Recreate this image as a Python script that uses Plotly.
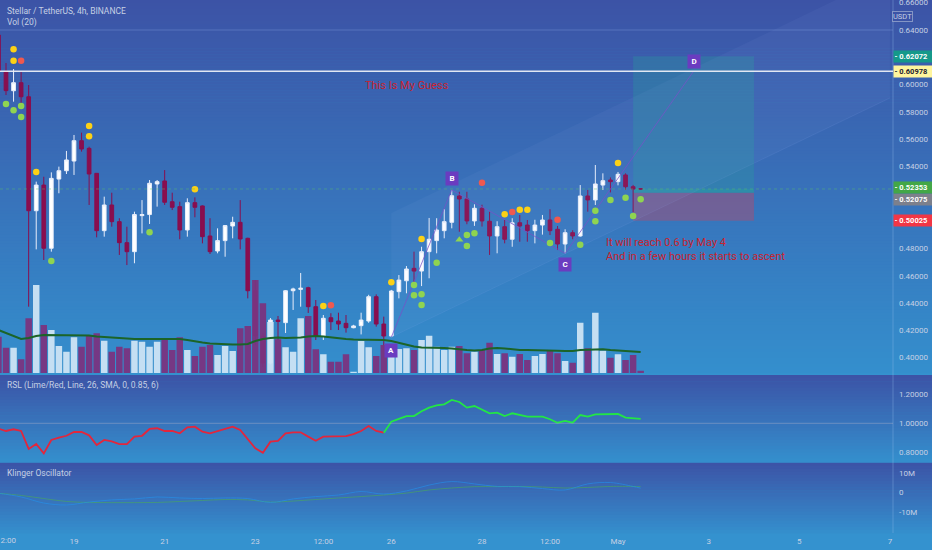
import plotly.graph_objects as go
from datetime import datetime, timedelta

# ------------------------------------------------------------------ data
bar_start = datetime(2021, 4, 17, 8, 0)   # first visible 4h candle
bar_hours = 4

opens = [0.6363, 0.6095, 0.5955, 0.6014, 0.5911, 0.5076, 0.5264, 0.4801, 0.5308, 0.5369,
         0.5440, 0.5589, 0.5533, 0.5350, 0.4930, 0.5118, 0.4996, 0.4842, 0.4776, 0.5040,
         0.5048, 0.5272, 0.5294, 0.5142, 0.5106, 0.4935, 0.5135, 0.5111, 0.4891, 0.4781,
         0.4857, 0.4964, 0.4991, 0.4874, 0.4490, 0.4158, 0.3960, 0.4275, 0.4256, 0.4490,
         0.4500, 0.4512, 0.4373, 0.4158, 0.4292, 0.4268, 0.4251, 0.4219, 0.4234, 0.4268,
         0.4446, 0.4246, 0.4158, 0.4483, 0.4563, 0.4654, 0.4634, 0.4776, 0.4857, 0.4930,
         0.4991, 0.5184, 0.5162, 0.5001, 0.5094, 0.4999, 0.4891, 0.4959, 0.4867, 0.4988,
         0.4971, 0.4930, 0.4971, 0.5008, 0.4940, 0.4832, 0.4915, 0.4891, 0.5184, 0.5155,
         0.5264, 0.5301, 0.5289, 0.5338, 0.5252, 0.5237]
highs = [0.6370, 0.6158, 0.6114, 0.6095, 0.5997, 0.5289, 0.5325, 0.5357, 0.5399, 0.5514,
         0.5631, 0.5648, 0.5545, 0.5352, 0.5179, 0.5208, 0.5021, 0.4959, 0.5069, 0.5154,
         0.5301, 0.5301, 0.5374, 0.5208, 0.5142, 0.5167, 0.5174, 0.5115, 0.5021, 0.4947,
         0.4971, 0.5032, 0.5154, 0.4878, 0.4568, 0.4180, 0.4290, 0.4305, 0.4495, 0.4512,
         0.4620, 0.4519, 0.4422, 0.4312, 0.4325, 0.4329, 0.4312, 0.4240, 0.4329, 0.4460,
         0.4463, 0.4300, 0.4496, 0.4605, 0.4671, 0.4776, 0.4812, 0.5023, 0.5021, 0.5087,
         0.5228, 0.5215, 0.5215, 0.5123, 0.5120, 0.5069, 0.4999, 0.5008, 0.5021, 0.5045,
         0.5008, 0.5010, 0.5045, 0.5087, 0.4964, 0.4940, 0.4933, 0.5264, 0.5228, 0.5411,
         0.5350, 0.5320, 0.5360, 0.5350, 0.5265, 0.5240]
lows = [0.6090, 0.5924, 0.5875, 0.5838, 0.4373, 0.4793, 0.4715, 0.4776, 0.5204, 0.5345,
        0.5338, 0.5509, 0.5118, 0.4881, 0.4886, 0.4959, 0.4752, 0.4678, 0.4691, 0.4910,
        0.4979, 0.5106, 0.5118, 0.5081, 0.4867, 0.4886, 0.5028, 0.4837, 0.4759, 0.4764,
        0.4739, 0.4874, 0.4793, 0.4434, 0.4090, 0.3930, 0.3950, 0.4129, 0.4180, 0.4349,
        0.4373, 0.4327, 0.4129, 0.4129, 0.4202, 0.4202, 0.4183, 0.4215, 0.4170, 0.4255,
        0.4227, 0.4056, 0.4150, 0.4434, 0.4471, 0.4532, 0.4524, 0.4581, 0.4764, 0.4874,
        0.4947, 0.4922, 0.4977, 0.4965, 0.4960, 0.4752, 0.4764, 0.4837, 0.4812, 0.4849,
        0.4849, 0.4837, 0.4901, 0.4898, 0.4788, 0.4764, 0.4867, 0.4886, 0.5069, 0.5118,
        0.5228, 0.5210, 0.5262, 0.5230, 0.5065, 0.5230]
closes = [0.6100, 0.5956, 0.6014, 0.5911, 0.5076, 0.5264, 0.4801, 0.5313, 0.5369, 0.5448,
          0.5589, 0.5528, 0.5345, 0.4930, 0.5118, 0.4996, 0.4842, 0.4776, 0.5048, 0.5048,
          0.5277, 0.5289, 0.5138, 0.5101, 0.4935, 0.5135, 0.5101, 0.4886, 0.4776, 0.4857,
          0.4967, 0.4991, 0.4869, 0.4490, 0.4158, 0.3960, 0.4275, 0.4265, 0.4490, 0.4503,
          0.4508, 0.4373, 0.4158, 0.4288, 0.4263, 0.4246, 0.4219, 0.4232, 0.4275, 0.4446,
          0.4246, 0.4158, 0.4488, 0.4568, 0.4649, 0.4634, 0.4776, 0.4867, 0.4935, 0.4996,
          0.5186, 0.5162, 0.5001, 0.5094, 0.5001, 0.4891, 0.4959, 0.4867, 0.4988, 0.4964,
          0.4930, 0.4971, 0.5008, 0.4930, 0.4832, 0.4915, 0.4891, 0.5184, 0.5155, 0.5272,
          0.5296, 0.5289, 0.5343, 0.5252, 0.5235, 0.52353]

# volume in millions XLM
volumes = [14.5, 10.1, 10.1, 5.5, 21.9, 35.2, 19.2, 17.2, 10.8, 8.5,
           14.3, 10.5, 15.2, 15.9, 12.9, 8.5, 10.5, 9.9, 12.9, 12.5,
           10.5, 12.5, 13.5, 9.2, 14.3, 9.2, 6.8, 10.5, 11.2, 7.2,
           10.8, 8.8, 17.9, 18.8, 37.2, 27.9, 20.4, 13.5, 10.3, 8.5,
           21.9, 22.8, 9.5, 7.5, 4.5, 4.5, 7.5, 0.5, 12.8, 10.3,
           6.8, 11.2, 9.6, 9.6, 9.9, 9.2, 13.2, 14.9, 10.5, 9.2,
           10.5, 10.8, 7.9, 8.5, 9.2, 12.1, 7.6, 7.9, 6.5, 7.6,
           5.2, 6.8, 7.6, 8.8, 7.9, 4.8, 4.1, 20.1, 9.9, 24.1,
           8.9, 6.1, 7.5, 5.2, 7.2, 0.9]
vol_ma20 = [17.2, 16.0, 14.8, 13.6, 14.0, 14.8, 15.2, 15.2, 15.2, 15.2,
            15.2, 15.2, 15.0, 14.6, 14.4, 14.0, 13.8, 13.6, 13.6, 13.6,
            13.6, 13.6, 13.8, 13.8, 13.6, 13.2, 12.6, 12.2, 11.8, 11.6,
            11.4, 11.4, 11.4, 11.6, 12.8, 13.6, 14.0, 14.2, 14.0, 14.0,
            14.2, 14.6, 14.8, 14.6, 14.2, 13.8, 13.6, 13.4, 13.4, 13.2,
            13.2, 13.2, 12.8, 12.0, 11.2, 10.6, 10.2, 10.2, 10.0, 10.0,
            9.8, 9.4, 9.2, 9.0, 9.2, 9.8, 10.0, 9.8, 9.4, 9.2,
            9.2, 9.2, 9.2, 9.0, 8.9, 8.8, 8.8, 9.2, 9.4, 9.6,
            9.5, 9.2, 9.0, 8.8, 8.6, 8.4]

rsl = [0.963, 0.947, 0.959, 0.947, 0.823, 0.857, 0.793, 0.885, 0.901, 0.914,
       0.940, 0.940, 0.917, 0.850, 0.885, 0.876, 0.857, 0.857, 0.908, 0.914,
       0.961, 0.966, 0.947, 0.947, 0.931, 0.972, 0.977, 0.942, 0.931, 0.947,
       0.966, 0.977, 0.954, 0.890, 0.828, 0.797, 0.873, 0.878, 0.931, 0.938,
       0.938, 0.908, 0.880, 0.908, 0.908, 0.908, 0.912, 0.926, 0.947, 0.981,
       0.947, 0.935, 1.011, 1.030, 1.050, 1.050, 1.083, 1.108, 1.124, 1.131,
       1.161, 1.147, 1.108, 1.119, 1.092, 1.069, 1.073, 1.050, 1.069, 1.057,
       1.046, 1.046, 1.046, 1.028, 1.004, 1.016, 1.004, 1.057, 1.046, 1.062,
       1.064, 1.062, 1.064, 1.039, 1.034, 1.030]
rsl_switch = 51          # RSL crosses above its SMA here (red -> lime)

klinger_bar = [0, 3, 6, 9, 12, 15, 18, 21, 24, 27, 30, 33, 36, 39, 42, 45, 48, 51,
               54, 57, 60, 63, 66, 69, 72, 75, 78, 81, 84, 85]
klinger_ko = [-0.5, -2.4, -5.5, -6.5, -5.0, -3.9, -3.4, -2.4, -2.9, -3.2, -2.9, -3.2, -5.2, -3.4,
              -2.2, -1.4, 0.4, -0.9, 0.7, 3.7, 5.5, 4.3, 3.0, 2.9, 1.9, 1.2, 4.3, 5.0, 3.0, 2.1]
klinger_sig = [-0.5, -1.6, -3.2, -4.7, -5.2, -5.3, -5.3, -5.2, -4.7, -4.2, -3.7, -3.9, -5.0, -4.5,
               -3.7, -2.9, -2.2, -1.4, -0.4, 1.2, 2.2, 2.9, 2.9, 3.0, 2.7, 2.2, 2.5, 3.0, 3.0, 2.9]

# signal dots (bar index, price)
yellow_bar = [2, 2, 5, 12, 12, 26, 43, 52, 56, 67, 69, 70, 82]
yellow_px = [0.6259, 0.6175, 0.5360, 0.5697, 0.5621, 0.5233, 0.4378, 0.4552, 0.4869, 0.5050, 0.5084, 0.5084, 0.5426]
red_bar = [3, 44, 64, 68, 74]
red_px = [0.6175, 0.4383, 0.5281, 0.5067, 0.5010]
green_bar = [1, 2, 3, 3, 7, 20, 55, 55, 56, 56, 58, 62, 63, 62, 73, 77, 79, 79, 81, 83, 84, 85]
green_px = [0.5858, 0.5812, 0.5843, 0.5763, 0.4708, 0.4918, 0.4532, 0.4456, 0.4464, 0.4385, 0.4695,
            0.4898, 0.4911, 0.4818, 0.4840, 0.4827, 0.5076, 0.4999, 0.5154, 0.5171, 0.5037, 0.5160]
tri_bar = [61]
tri_px = [0.4864]

# ABCD pattern points (bar index, price)
abcd_names = ["A", "B", "C", "D"]
abcd_bar = [52, 60, 75, 92]
abcd_px = [0.4150, 0.5228, 0.4764, 0.60978]

# long-position tool
pos_start_bar = 84
pos_end = datetime(2021, 5, 4, 0, 0)
pos_entry = 0.52075
pos_target = 0.62072
pos_stop = 0.50025
last_price = 0.52353
hline_level = 0.60978

# parallel channel from A (two parallel rails, start / end)
chan_bar = [52, 118]
chan_lower = [0.4151, 0.5902]
chan_upper = [0.5059, 0.6810]

# axis ticks
price_ticks = [0.40, 0.42, 0.44, 0.46, 0.48, 0.54, 0.56, 0.58, 0.60, 0.64]
price_top_cut = 0.66          # label cut by the top edge
rsl_ticks = [0.8, 1.0, 1.2]
klg_ticks = [-10, 0, 10]
klg_ticktext = ["-10M", "0", "10M"]
time_ticks = ["2021-04-17 12:00", "2021-04-19", "2021-04-21", "2021-04-23", "2021-04-24 12:00",
              "2021-04-26", "2021-04-28", "2021-04-29 12:00", "2021-05-01", "2021-05-03",
              "2021-05-05", "2021-05-07"]
time_ticktext = ["12:00", "19", "21", "23", "12:00", "26", "28", "12:00", "May", "3", "5", "7"]

# ------------------------------------------------------------------ geometry / style
W, H = 932, 550
PLOT_R = 893
PANE_PRICE = (0, 373)
PANE_RSL = (375, 461.7)
PANE_KLG = (462.7, 533)
PX_PER_DAY = 45.333
X19 = 74.0                      # pixel of 19 Apr 00:00
day19 = datetime(2021, 4, 19)
x_range = [day19 - timedelta(days=X19 / PX_PER_DAY),
           day19 + timedelta(days=(PLOT_R - X19) / PX_PER_DAY)]
PX_PER_PRICE = 1365.0
price_range = [0.64 - (PANE_PRICE[1] - 30) / PX_PER_PRICE, 0.64 + 30 / PX_PER_PRICE]
rsl_range = [1 - (PANE_RSL[1] - 423.3) / 145.0, 1 + (423.3 - PANE_RSL[0]) / 145.0]
klg_range = [-(PANE_KLG[1] - 492.3) / 1.95, (492.3 - PANE_KLG[0]) / 1.95]
vol_range = [0, PANE_PRICE[1] * 0.4]

FONT = "Roboto"
TXT = "#c5d0e4"
UP = "#ffffff"
DOWN = "#880e4f"
VOL_UP = "rgba(205,228,244,0.95)"
VOL_DOWN = "rgba(122,52,128,0.95)"


def t(i):
    return bar_start + timedelta(hours=bar_hours * i)


def ydom(p):
    return [1 - p[1] / H, 1 - p[0] / H]


times = [t(i) for i in range(len(opens))]

fig = go.Figure()

# background gradients
shapes = []


def gradient(y0, y1, top, bot, step=3):
    n = max(1, int((y1 - y0) / step))
    for k in range(n):
        a = y0 + (y1 - y0) * k / n
        b = y0 + (y1 - y0) * (k + 1) / n + 0.6
        f = (k + 0.5) / n
        c = tuple(int(round(top[j] + (bot[j] - top[j]) * f)) for j in range(3))
        shapes.append(dict(type="rect", xref="paper", yref="paper", x0=0, x1=1,
                           y0=1 - b / H, y1=1 - a / H, line=dict(width=0),
                           fillcolor="rgb(%d,%d,%d)" % c, layer="below"))


TOP = (60, 83, 166)
BOT = (52, 143, 205)
gradient(PANE_PRICE[0], PANE_PRICE[1], TOP, BOT)
gradient(PANE_RSL[0], PANE_RSL[1], TOP, BOT)
gradient(PANE_KLG[0], PANE_KLG[1], TOP, BOT)

# right axis border
shapes.append(dict(type="line", xref="paper", yref="paper", x0=PLOT_R / W, x1=PLOT_R / W,
                   y0=1 - PANE_KLG[1] / H, y1=1, line=dict(color="rgba(150,190,235,0.35)", width=1)))
# faint grid line at 0.64
shapes.append(dict(type="line", xref="paper", yref="y", x0=0, x1=PLOT_R / W, y0=0.64, y1=0.64,
                   line=dict(color="rgba(140,170,230,0.35)", width=1)))
# RSL 1.0 level
shapes.append(dict(type="line", xref="paper", yref="y2", x0=0, x1=PLOT_R / W, y0=1.0, y1=1.0,
                   line=dict(color="rgba(170,175,200,0.45)", width=1)))
# last price line
shapes.append(dict(type="line", xref="paper", yref="y", x0=0, x1=PLOT_R / W, y0=last_price, y1=last_price,
                   line=dict(color="rgba(90,190,110,0.45)", width=1, dash="dot")))
# position tool boxes
shapes.append(dict(type="rect", xref="x", yref="y", x0=t(pos_start_bar), x1=pos_end,
                   y0=pos_entry, y1=pos_target, line=dict(width=0),
                   fillcolor="rgba(38,166,154,0.28)", layer="below"))
shapes.append(dict(type="rect", xref="x", yref="y", x0=t(pos_start_bar), x1=pos_end,
                   y0=pos_stop, y1=pos_entry, line=dict(width=0),
                   fillcolor="rgba(242,54,69,0.30)", layer="below"))
shapes.append(dict(type="rect", xref="x", yref="y", x0=t(pos_start_bar), x1=pos_end,
                   y0=pos_entry, y1=last_price, line=dict(width=0),
                   fillcolor="rgba(38,166,154,0.35)", layer="below"))
# horizontal level
shapes.append(dict(type="line", xref="paper", yref="y", x0=0, x1=PLOT_R / W, y0=hline_level, y1=hline_level,
                   line=dict(color="rgba(235,238,245,0.95)", width=1.5)))

# parallel channel fill
fig.add_trace(go.Scatter(
    x=[t(chan_bar[0]), t(chan_bar[1]), t(chan_bar[1]), t(chan_bar[0]), t(chan_bar[0])],
    y=[chan_lower[0], chan_lower[1], chan_upper[1], chan_upper[0], chan_lower[0]],
    fill="toself", fillcolor="rgba(170,190,255,0.05)", mode="lines",
    line=dict(color="rgba(170,190,255,0.0)", width=0), xaxis="x", yaxis="y", hoverinfo="skip"))
fig.add_trace(go.Scatter(x=[t(chan_bar[0]), t(chan_bar[1])], y=chan_lower, mode="lines",
                         line=dict(color="rgba(170,190,255,0.10)", width=1), xaxis="x", yaxis="y",
                         hoverinfo="skip"))

# volume
fig.add_trace(go.Bar(
    x=times, y=volumes, xaxis="x", yaxis="y4", width=bar_hours * 3600 * 1000 * 0.86,
    marker=dict(color=[VOL_UP if c >= o else VOL_DOWN for o, c in zip(opens, closes)], line=dict(width=0)),
    hoverinfo="skip"))
fig.add_trace(go.Scatter(x=times, y=vol_ma20, xaxis="x", yaxis="y4", mode="lines",
                         line=dict(color="#1b6428", width=2), hoverinfo="skip"))

# candles
fig.add_trace(go.Candlestick(
    x=times, open=opens, high=highs, low=lows, close=closes, xaxis="x", yaxis="y",
    increasing=dict(line=dict(color="#e8eefa", width=1), fillcolor=UP),
    decreasing=dict(line=dict(color=DOWN, width=1), fillcolor=DOWN),
    whiskerwidth=0, hoverinfo="skip"))

# ABCD lines
fig.add_trace(go.Scatter(x=[t(i) for i in abcd_bar], y=abcd_px, mode="lines", xaxis="x", yaxis="y",
                         line=dict(color="rgba(120,80,200,0.75)", width=1), hoverinfo="skip"))

# dots
def dots(bars, px, color, symbol="circle", size=6.5):
    fig.add_trace(go.Scatter(x=[t(i) for i in bars], y=px, mode="markers", xaxis="x", yaxis="y",
                             marker=dict(color=color, size=size, symbol=symbol, line=dict(width=0)),
                             hoverinfo="skip"))


dots(yellow_bar, yellow_px, "#fcd116")
dots(red_bar, red_px, "#f0594f")
dots(green_bar, green_px, "#8fd451")
dots(tri_bar, tri_px, "#8fd451", symbol="triangle-up", size=7)

# RSL
fig.add_trace(go.Scatter(x=times[:rsl_switch + 1], y=rsl[:rsl_switch + 1], mode="lines", xaxis="x2", yaxis="y2",
                         line=dict(color="#e3263c", width=1.8), hoverinfo="skip"))
fig.add_trace(go.Scatter(x=times[rsl_switch:], y=rsl[rsl_switch:], mode="lines", xaxis="x2", yaxis="y2",
                         line=dict(color="#22e645", width=1.8), hoverinfo="skip"))

# Klinger
fig.add_trace(go.Scatter(x=[t(i) for i in klinger_bar], y=klinger_sig, mode="lines", xaxis="x3", yaxis="y3",
                         line=dict(color="rgba(76,175,80,0.55)", width=1, shape="spline"), hoverinfo="skip"))
fig.add_trace(go.Scatter(x=[t(i) for i in klinger_bar], y=klinger_ko, mode="lines", xaxis="x3", yaxis="y3",
                         line=dict(color="rgba(33,150,243,0.55)", width=1, shape="spline"), hoverinfo="skip"))

# annotations
ann = []


def ptext(x, y, text, size=8, color=TXT, **kw):
    ann.append(dict(xref="paper", yref="paper", x=x / W, y=1 - y / H, text=text, showarrow=False,
                    xanchor=kw.pop("xanchor", "left"), yanchor=kw.pop("yanchor", "middle"),
                    font=dict(family=FONT, size=size, color=color), **kw))


ptext(5, 11, "Stellar / TetherUS, 4h, BINANCE", size=8.5)
ptext(5, 22, "Vol (20)", size=8.5)
ptext(5, 385, "RSL (Lime/Red, Line, 26, SMA, 0, 0.85, 6)", size=8.5)
ptext(5, 472.5, "Klinger Oscillator", size=8.5)
# first time label, partly cut by the left edge (as in the reference)
ptext(6, 540.5, time_ticktext[0], size=8, xanchor="center")
# top price label, partly cut by the top edge
ann.append(dict(xref="paper", yref="y", x=PLOT_R / W, y=price_top_cut, xanchor="left", yanchor="middle",
                xshift=4, text="%.5f" % price_top_cut, showarrow=False,
                font=dict(family=FONT, size=8, color=TXT)))

NOTE = "#c8232f"
ptext(363, 85, "This Is My Guess", size=11, color=NOTE)
ptext(604, 249.5, "It will reach 0.6 by May 4<br>And in a few hours it starts to ascent", size=11,
      color=NOTE, align="left")

# ABCD labels
shift = [-13, 11, -11, 10]
for n, b, p, s in zip(abcd_names, abcd_bar, abcd_px, shift):
    ann.append(dict(x=t(b), y=p, xref="x", yref="y", text="<b>%s</b>" % n, showarrow=False, yshift=s,
                    font=dict(family=FONT, size=8, color="white"), bgcolor="#6a3cc0",
                    width=10, height=11, borderpad=1))

# right-scale labels
def plabel(price, text, bg, fg="white", yshift=0):
    ann.append(dict(xref="paper", yref="y", x=PLOT_R / W, y=price, xanchor="left", yanchor="middle",
                    text="<b>- %s</b>" % text, showarrow=False, align="left", yshift=yshift,
                    font=dict(family=FONT, size=7.5, color=fg), bgcolor=bg, width=37, height=10,
                    borderpad=0.5))


plabel(pos_target, "%.5f" % pos_target, "#15998a")
plabel(hline_level, "%.5f" % hline_level, "#fff59d", fg="#1e2130")
plabel(pos_entry, "%.5f" % pos_entry, "#7d808c", yshift=-7)
plabel(last_price, "%.5f" % last_price, "#43a747", yshift=1)
plabel(pos_stop, "%.5f" % pos_stop, "#f23645")

ann.append(dict(xref="paper", yref="paper", x=913 / W, y=1 - 11.5 / H, text="USDT", showarrow=False,
                font=dict(family=FONT, size=7.5, color=TXT), bordercolor="rgba(150,165,205,0.8)",
                borderwidth=1, borderpad=0, bgcolor="rgb(60,84,166)"))

axis_common = dict(showgrid=False, zeroline=False, showline=False, fixedrange=True)
yfont = dict(family=FONT, size=8, color=TXT)

fig.update_layout(
    width=W, height=H, margin=dict(l=0, r=0, t=0, b=0),
    paper_bgcolor="rgb(52,146,207)", plot_bgcolor="rgba(0,0,0,0)",
    showlegend=False, shapes=shapes, annotations=ann, boxgap=0.3,
    xaxis=dict(domain=[0, PLOT_R / W], range=x_range, anchor="y", showticklabels=False,
               rangeslider=dict(visible=False), type="date", **axis_common),
    xaxis2=dict(domain=[0, PLOT_R / W], range=x_range, anchor="y2", showticklabels=False,
                matches="x", type="date", **axis_common),
    xaxis3=dict(domain=[0, PLOT_R / W], range=x_range, anchor="y3", matches="x", type="date",
                tickvals=time_ticks[1:], ticktext=time_ticktext[1:], tickfont=yfont, ticks="",
                ticklabelstandoff=2, **axis_common),
    yaxis=dict(domain=ydom(PANE_PRICE), range=price_range, side="right", anchor="x",
               tickvals=price_ticks, tickformat=".5f", tickfont=yfont, ticks="",
               ticklabelstandoff=5, **axis_common),
    yaxis4=dict(domain=ydom(PANE_PRICE), range=vol_range, overlaying="y", side="left",
                showticklabels=False, **axis_common),
    yaxis2=dict(domain=ydom(PANE_RSL), range=rsl_range, side="right", anchor="x2",
                tickvals=rsl_ticks, tickformat=".5f", tickfont=yfont, ticks="",
                ticklabelstandoff=5, **axis_common),
    yaxis3=dict(domain=ydom(PANE_KLG), range=klg_range, side="right", anchor="x3",
                tickvals=klg_ticks, ticktext=klg_ticktext, tickfont=yfont, ticks="",
                ticklabelstandoff=5, **axis_common),
)

fig.write_html("out.html", config=dict(displayModeBar=False),
               post_script="document.body.style.margin='0px';document.body.style.overflow='hidden';")
